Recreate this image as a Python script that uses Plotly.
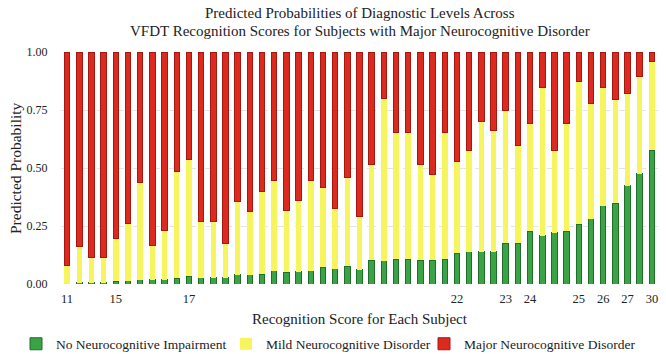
import plotly.graph_objects as go

subjects = list(range(1, 50))
tick_positions = [1, 5, 11, 33, 37, 39, 43, 45, 47, 49]
tick_labels = ["11", "15", "17", "22", "23", "24", "25", "26", "27", "30"]

no_impairment = [0.002, 0.005, 0.005, 0.005, 0.011, 0.013, 0.019, 0.018, 0.018, 0.024,
                 0.033, 0.026, 0.026, 0.027, 0.040, 0.040, 0.042, 0.057, 0.050, 0.053,
                 0.057, 0.072, 0.066, 0.076, 0.062, 0.102, 0.100, 0.106, 0.106, 0.102,
                 0.102, 0.106, 0.133, 0.138, 0.139, 0.139, 0.176, 0.176, 0.228, 0.209,
                 0.222, 0.228, 0.258, 0.282, 0.338, 0.348, 0.423, 0.476, 0.577]
mild = [0.078, 0.157, 0.111, 0.111, 0.184, 0.249, 0.418, 0.150, 0.211, 0.463,
        0.504, 0.242, 0.242, 0.149, 0.314, 0.272, 0.355, 0.391, 0.268, 0.307,
        0.391, 0.343, 0.261, 0.382, 0.229, 0.414, 0.700, 0.546, 0.546, 0.414,
        0.368, 0.546, 0.397, 0.439, 0.563, 0.521, 0.572, 0.419, 0.464, 0.636,
        0.355, 0.464, 0.617, 0.496, 0.507, 0.449, 0.398, 0.419, 0.380]
major = [0.920, 0.838, 0.884, 0.884, 0.805, 0.738, 0.563, 0.832, 0.771, 0.513,
         0.463, 0.732, 0.732, 0.824, 0.646, 0.688, 0.603, 0.552, 0.682, 0.640,
         0.552, 0.585, 0.673, 0.542, 0.709, 0.484, 0.200, 0.348, 0.348, 0.484,
         0.530, 0.348, 0.470, 0.423, 0.298, 0.340, 0.252, 0.405, 0.308, 0.155,
         0.423, 0.308, 0.125, 0.222, 0.155, 0.203, 0.179, 0.105, 0.043]

title_lines = ["Predicted Probabilities of Diagnostic Levels Across",
               "VFDT Recognition Scores for Subjects with Major Neurocognitive Disorder"]
x_title = "Recognition Score for Each Subject"
y_title = "Predicted Probability"

FONT = "Liberation Serif, Times New Roman, serif"
TXT = "#222222"

W, H = 666, 354
L, R, T, B = 61, 8, 52, 70
PW, PH = W - L - R, H - T - B


def px_x(px):
    return (px - L) / PW


def px_y(py):
    return (H - B - py) / PH


fig = go.Figure()
fig.add_trace(go.Bar(x=subjects, y=no_impairment, name="No Neurocognitive Impairment",
                     legend="legend", showlegend=True,
                     marker=dict(color="#3aa345", line=dict(color="#1f6e2a", width=1))))
fig.add_trace(go.Bar(x=subjects, y=mild, name="Mild Neurocognitive Disorder",
                     legend="legend2", showlegend=True,
                     marker=dict(color="#f7f55e", line=dict(color="#f7f55e", width=0))))
fig.add_trace(go.Bar(x=subjects, y=major, name="Major Neurocognitive Disorder",
                     legend="legend3", showlegend=True,
                     marker=dict(color="#dc2a1e", line=dict(color="#a51812", width=1))))

annotations = [
    dict(text=title_lines[0], x=0.5, xref="paper", y=px_y(13), yref="paper",
         xanchor="center", yanchor="middle", showarrow=False,
         font=dict(family=FONT, size=15, color=TXT)),
    dict(text=title_lines[1], x=0.5, xref="paper", y=px_y(31), yref="paper",
         xanchor="center", yanchor="middle", showarrow=False,
         font=dict(family=FONT, size=15, color=TXT)),
    dict(text=x_title, x=0.5, xref="paper", y=px_y(319), yref="paper",
         xanchor="center", yanchor="middle", showarrow=False,
         font=dict(family=FONT, size=15, color=TXT)),
    dict(text=y_title, x=px_x(15), xref="paper", y=0.5, yref="paper",
         xanchor="center", yanchor="middle", showarrow=False, textangle=-90,
         font=dict(family=FONT, size=15.5, color=TXT)),
]


def legend_at(px_left):
    return dict(orientation="h", xref="container", x=px_left / W, xanchor="left",
                yref="container", y=(H - 344) / H, yanchor="middle",
                font=dict(family=FONT, size=13.5, color=TXT), itemwidth=30,
                bgcolor="rgba(0,0,0,0)", visible=True)


fig.update_layout(
    barmode="stack",
    bargap=0.55,
    showlegend=True,
    width=W, height=H,
    margin=dict(l=L, r=R, t=T, b=B, autoexpand=False),
    paper_bgcolor="white", plot_bgcolor="white",
    font=dict(family=FONT, size=12, color=TXT),
    annotations=annotations,
    xaxis=dict(tickmode="array", tickvals=tick_positions, ticktext=tick_labels,
               range=[0.5, 49.5], showgrid=False, zeroline=False,
               ticks="outside", ticklen=3, tickcolor="rgba(0,0,0,0)",
               tickfont=dict(size=12.5), automargin=False),
    yaxis=dict(range=[0, 1.0], tickvals=[0, 0.25, 0.5, 0.75, 1.0],
               tickformat=".2f", showgrid=True, gridcolor="#e4e4e4", griddash="dash",
               zeroline=False, ticks="outside", ticklen=10, tickcolor="rgba(0,0,0,0)",
               tickfont=dict(size=12), automargin=False),
    legend=legend_at(16),
    legend2=legend_at(226),
    legend3=legend_at(424),
)

fig.write_html("out.html", config={"displayModeBar": False},
               post_script="document.body.style.margin='0';document.body.style.overflow='hidden';")
